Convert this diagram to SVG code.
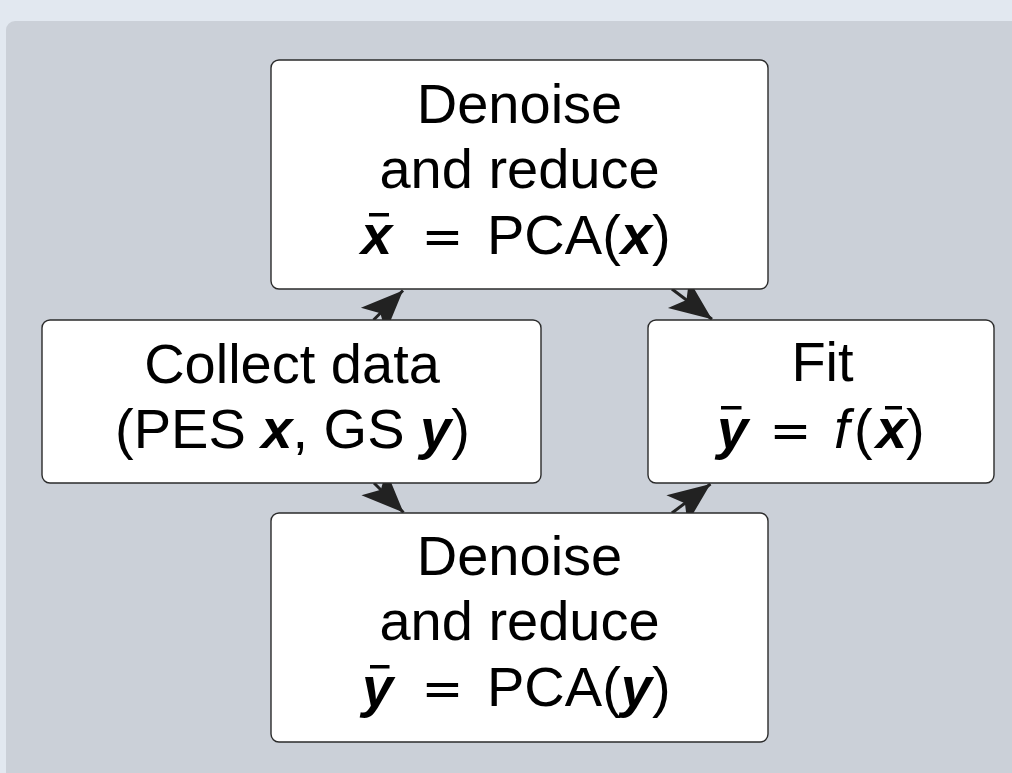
<svg xmlns="http://www.w3.org/2000/svg" width="1012" height="773" viewBox="0 0 1012 773">
<defs>
<style>
.box{fill:#ffffff;stroke:#2b2b2b;stroke-width:1.4}
.t{font-family:"Liberation Sans",Arial,Helvetica,sans-serif;font-size:56px;fill:#000}
.bi{font-weight:bold;font-style:italic}
.it{font-style:italic}
.eq{font-family:"DejaVu Serif","Liberation Serif",serif;font-size:50px;fill:#000}
.bar{fill:#000}
.edge{stroke:#222;stroke-width:3;fill:none;marker-end:url(#stealth)}
</style>
<marker id="stealth" markerUnits="userSpaceOnUse" markerWidth="50" markerHeight="44" viewBox="-46 -22 50 44" refX="0" refY="0" orient="auto">
<path d="M0,0 L-42,-17.5 L-32,0 L-42,17.5 Z" fill="#222"/>
</marker>
</defs>
<rect x="0" y="0" width="1012" height="773" fill="#e2e8f0"/>
<rect x="6" y="21" width="1020" height="770" rx="9" fill="#cbd0d8"/>
<g id="connectors">
<path class="edge" d="M373.5 320 L403 290.5"/>
<path class="edge" d="M671.9 289 L712 319.3"/>
<path class="edge" d="M374 483 L403.5 512.5"/>
<path class="edge" d="M671.9 513 L710.5 484"/>
</g>
<g id="node-top">
<rect class="box" x="271" y="60" width="497" height="229" rx="8"/>
<text class="t" x="519.5" y="123" text-anchor="middle">Denoise</text>
<text class="t" x="519.5" y="188" text-anchor="middle">and reduce</text>
<text class="t bi" x="361" y="254">x</text>
<rect class="bar" x="369" y="213" width="20" height="3.5"/>
<text class="eq" x="442.5" y="254" text-anchor="middle">=</text>
<text class="t" x="487" y="254">PCA(<tspan class="bi">x</tspan>)</text>
</g>
<g id="node-left">
<rect class="box" x="42" y="320" width="499" height="163" rx="8"/>
<text class="t" x="292" y="383" text-anchor="middle">Collect data</text>
<text class="t" x="292.5" y="448" text-anchor="middle">(PES <tspan class="bi">x</tspan>, GS <tspan class="bi">y</tspan>)</text>
</g>
<g id="node-right">
<rect class="box" x="648" y="320" width="346" height="163" rx="8"/>
<text class="t" x="822.5" y="381" text-anchor="middle">Fit</text>
<text class="t bi" x="717" y="448">y</text>
<rect class="bar" x="721" y="406" width="20.5" height="3.5"/>
<text class="eq" x="790.5" y="448" text-anchor="middle">=</text>
<text class="t it" x="834" y="448">f</text>
<text class="t" x="854" y="448">(</text>
<text class="t bi" x="876" y="448">x</text>
<rect class="bar" x="885" y="406" width="17" height="3.5"/>
<text class="t" x="906" y="448">)</text>
</g>
<g id="node-bottom">
<rect class="box" x="271" y="513" width="497" height="229" rx="8"/>
<text class="t" x="519.5" y="575" text-anchor="middle">Denoise</text>
<text class="t" x="519.5" y="640" text-anchor="middle">and reduce</text>
<text class="t bi" x="362" y="706">y</text>
<rect class="bar" x="370" y="665" width="19.5" height="3.5"/>
<text class="eq" x="442.5" y="706" text-anchor="middle">=</text>
<text class="t" x="487" y="706">PCA(<tspan class="bi">y</tspan>)</text>
</g>
</svg>
